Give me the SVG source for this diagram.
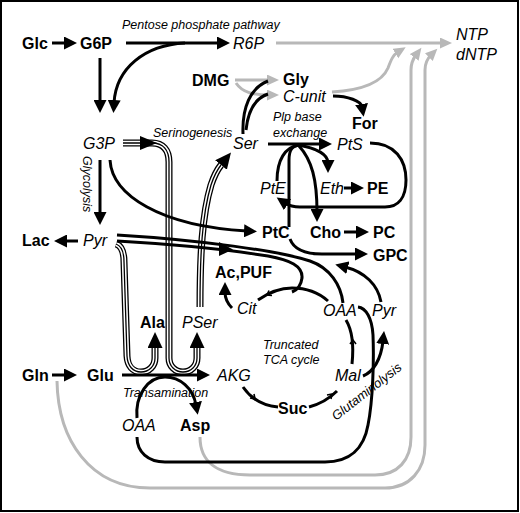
<svg xmlns="http://www.w3.org/2000/svg" width="520" height="513" viewBox="0 0 520 513">
<style>
.b{font-family:"Liberation Sans",Arial,sans-serif;font-weight:bold;font-size:16px;fill:#000}
.i{font-family:"Liberation Sans",Arial,sans-serif;font-style:italic;font-size:16px;fill:#000}
.s{font-family:"Liberation Sans",Arial,sans-serif;font-style:italic;font-size:12.5px;fill:#000}
.k{fill:none;stroke:#000;stroke-width:3}
.g{fill:none;stroke:#b8b8b8;stroke-width:3}
.ro{fill:none;stroke:#000;stroke-width:7}
.rw{fill:none;stroke:#fff;stroke-width:4.4}
.rc{fill:none;stroke:#000;stroke-width:1.3}
.t{fill:none;stroke:#000;stroke-width:1.6}
</style>
<defs>
<marker id="ah" markerUnits="userSpaceOnUse" markerWidth="14" markerHeight="13" refX="3" refY="6.5" orient="auto"><path d="M0,0 L13,6.5 L0,13 z" fill="#000"/></marker>
<marker id="ag" markerUnits="userSpaceOnUse" markerWidth="13" markerHeight="12" refX="3" refY="5.5" orient="auto"><path d="M0,0 L12,5.5 L0,11 z" fill="#b8b8b8"/></marker>
<marker id="ar" markerUnits="userSpaceOnUse" markerWidth="17" markerHeight="16" refX="0" refY="7.5" orient="auto"><path d="M0,0 L16,7.5 L0,15 z" fill="#000"/></marker>
<path id="r1" d="M116,244 C122,246 124,252 124,262 L127,356 C127.5,366 133,372 141,372 C149,372 155,366 155,358 L155,348"/>
<path id="r2" d="M123,143 L152,143 C163,143 169,150 169,162 L169,358 C169,366 175,372 183,372 C191,372 197,366 197,358 L197,348"/>
<path id="r3" d="M200,307 C200,255 202,215 211,185 C214,176 217,170 221,165"/>
</defs>
<rect x="1" y="1" width="517" height="510" fill="#fff" stroke="#000" stroke-width="2"/>

<g id="connectors">
  <g id="gray">
    <path class="g" d="M276,43 L443,43" marker-end="url(#ag)"/>
    <path class="g" d="M235,80 L270,80" marker-end="url(#ag)"/>
    <path class="g" d="M236,83 C242,92 252,95 270,95" marker-end="url(#ag)"/>
    <path class="g" d="M332,92 C365,90 382,82 388,68 C391,60 393,55 398,52" marker-end="url(#ag)"/>
    <path class="g" d="M200,437 C200,460 215,475 250,475 L375,475 C398,475 411,460 411,437 L411,70 C411,63 413,59 416,55" marker-end="url(#ag)"/>
    <path class="g" d="M57,381 C58,440 90,488 150,488 L385,488 C410,488 425,470 425,445 L425,70 C425,63 427,59 431,55" marker-end="url(#ag)"/>
  </g>
  <g id="rails">
    <use href="#r1" class="ro" marker-end="url(#ar)"/><use href="#r1" class="rw"/><use href="#r1" class="rc"/>
    <use href="#r2" class="ro" marker-end="url(#ar)"/><use href="#r2" class="rw"/><use href="#r2" class="rc"/>
    <use href="#r3" class="ro" marker-end="url(#ar)"/><use href="#r3" class="rw"/><use href="#r3" class="rc"/>
    <polygon points="140,136 157,143 140,150" fill="#000"/>
  </g>
  <g id="black">
    <path class="k" d="M52,43 L67,43" marker-end="url(#ah)"/>
    <path class="k" d="M126,43 L220,43" marker-end="url(#ah)"/>
    <path class="k" d="M185,43 C145,45 116,68 114,103" marker-end="url(#ah)"/>
    <path class="k" d="M100,58 L100,103" marker-end="url(#ah)"/>
    <path class="k" d="M100,160 L100,215" marker-end="url(#ah)"/>
    <path class="k" d="M78,241 L64,241" marker-end="url(#ah)"/>
    <path class="k" d="M110,160 C112,195 160,226 247,231" marker-end="url(#ah)"/>
    <path class="k" d="M243,134 C242,108 250,88 268,81"/>
    <path class="k" d="M246,130 C248,110 256,98 268,94"/>
    <path class="k" d="M333,96 C348,96 361,101 362,107" marker-end="url(#ah)"/>
    <path class="k" d="M268,144 L322,144" marker-end="url(#ah)"/>
    <path class="k" d="M297,145 C318,148 328,155 328,163" marker-end="url(#ah)"/>
    <path class="k" d="M299,146 C312,160 317,180 317,212" marker-end="url(#ah)"/>
    <path class="k" d="M277,181 C277,160 285,147 299,145"/>
    <path class="k" d="M289,227 L289,160 C289,150 292,146 299,145"/>
    <path class="k" d="M370,143 C395,143 406,160 406,180 C406,198 398,207 385,207 L300,207 C293,207 288,205 285,203" marker-end="url(#ah)"/>
    <path class="k" d="M344,188 L354,188" marker-end="url(#ah)"/>
    <path class="k" d="M344,232 L359,232" marker-end="url(#ah)"/>
    <path class="k" d="M290,239 C294,250 305,254 322,254 L358,254" marker-end="url(#ah)"/>
    <path class="k" d="M343,303 C341,285 330,268 310,261 C280,251 200,240 117,235"/>
    <path class="k" d="M117,241 C170,244 230,250 268,256 C290,260 303,266 302,278 C301,286 297,290 292,292"/>
    <polygon points="219,242 233,249.5 219,256" fill="#000"/>
    <path class="k" d="M381,302 C378,285 365,272 345,267" marker-end="url(#ah)"/>
    <path class="k" d="M328,301 C318,292 305,288 292,288 C280,288 268,293 258,300"/>
    <path class="k" d="M232,308 C226,302 225,297 225,292" marker-end="url(#ah)"/>
    <path class="k" d="M243,387 C252,400 265,406 278,407"/>
    <path class="k" d="M309,407 C320,404 330,398 337,391"/>
    <path class="k" d="M352,364 C354,345 352,330 346,320"/>
    <path class="k" d="M363,376 C373,372 381,360 383,341" marker-end="url(#ah)"/>
    <path class="k" d="M358,307 C366,308 372,318 373,335 C374,360 373,400 368,425 C364,448 350,462 325,462 L165,462 C148,462 137,452 137,437"/>
    <path class="k" d="M137,418 C135,395 148,377 165,377 C180,377 193,388 196,405" marker-end="url(#ah)"/>
    <path class="k" d="M122,375 L200,375" marker-end="url(#ah)"/>
    <path class="k" d="M52,375 L67,375" marker-end="url(#ah)"/>
    <path class="t" d="M269,290.5 L267,295 L272,295.5"/>
    <path class="t" d="M254,394 L255,399 L250,398"/>
    <path class="t" d="M327,395 L332,394 L331,399"/>
    <path class="t" d="M350,344 L353,340 L356,344"/>
  </g>
</g>

<g id="n-glc"><text class="b" x="22" y="49">Glc</text></g>
<g id="n-g6p"><text class="b" x="80" y="49">G6P</text></g>
<g id="n-r6p"><text class="i" x="233" y="49">R6P</text></g>
<g id="l-ppp"><text class="s" x="122" y="29">Pentose phosphate pathway</text></g>
<g id="n-ntp"><text class="i" x="456" y="40">NTP</text><text class="i" x="456" y="60">dNTP</text></g>
<g id="n-dmg"><text class="b" x="192" y="86">DMG</text></g>
<g id="n-gly"><text class="b" x="283" y="84.5">Gly</text></g>
<g id="n-cunit"><text class="i" x="283" y="102">C-unit</text></g>
<g id="n-for"><text class="b" x="352" y="129">For</text></g>
<g id="l-ser"><text class="s" x="153" y="137">Serinogenesis</text></g>
<g id="n-ser"><text class="i" x="233" y="149">Ser</text></g>
<g id="l-plp"><text class="s" x="273" y="121">Plp base</text><text class="s" x="273" y="137">exchange</text></g>
<g id="n-pts"><text class="i" x="337" y="150">PtS</text></g>
<g id="n-g3p"><text class="i" x="83" y="149">G3P</text></g>
<g id="l-gly"><text class="s" transform="translate(83,156) rotate(90)">Glycolysis</text></g>
<g id="n-pte"><text class="i" x="260" y="194">PtE</text></g>
<g id="n-eth"><text class="i" x="320" y="194">Eth</text></g>
<g id="n-pe"><text class="b" x="367" y="194">PE</text></g>
<g id="n-ptc"><text class="b" x="262" y="238">PtC</text></g>
<g id="n-cho"><text class="b" x="310" y="238">Cho</text></g>
<g id="n-pc"><text class="b" x="373" y="238">PC</text></g>
<g id="n-gpc"><text class="b" x="373" y="261">GPC</text></g>
<g id="n-lac"><text class="b" x="22" y="246">Lac</text></g>
<g id="n-pyr"><text class="i" x="83" y="246">Pyr</text></g>
<g id="n-acpuf"><text class="b" x="215" y="278">Ac,PUF</text></g>
<g id="n-cit"><text class="i" x="237" y="314">Cit</text></g>
<g id="n-oaa-m"><text class="i" x="323" y="316">OAA</text></g>
<g id="n-pyr-m"><text class="i" x="372" y="316">Pyr</text></g>
<g id="n-ala"><text class="b" x="140" y="328">Ala</text></g>
<g id="n-pser"><text class="i" x="182" y="328">PSer</text></g>
<g id="l-tca"><text class="s" x="263" y="349">Truncated</text><text class="s" x="263" y="364">TCA cycle</text></g>
<g id="n-gln"><text class="b" x="22" y="381">Gln</text></g>
<g id="n-glu"><text class="b" x="87" y="381">Glu</text></g>
<g id="n-akg"><text class="i" x="217" y="381">AKG</text></g>
<g id="n-mal"><text class="i" x="335" y="381">Mal</text></g>
<g id="l-trans"><text class="s" x="123" y="397">Transamination</text></g>
<g id="n-suc"><text class="b" x="278" y="414">Suc</text></g>
<g id="n-oaa-c"><text class="i" x="122" y="431">OAA</text></g>
<g id="n-asp"><text class="b" x="180" y="431">Asp</text></g>
<g id="l-glut"><text class="s" style="font-size:13px" transform="translate(336,421) rotate(-38)">Glutaminolysis</text></g>
</svg>
